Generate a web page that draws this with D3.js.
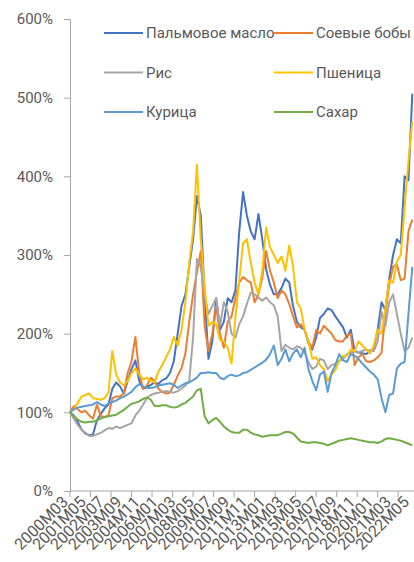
<!DOCTYPE html>
<html>
<head>
<meta charset="utf-8">
<script src="https://cdn.jsdelivr.net/npm/d3@7"></script>
<style>
  body { margin: 0; background: #fff; }
  svg text { font-family: Roboto, "Open Sans", sans-serif; fill: #595959; }
</style>
</head>
<body>
<svg id="chart"></svg>
<script>
// commodity price indices, 2000M03 = 100%, one point every 3 months

const seriesNames = ["Пальмовое масло", "Соевые бобы", "Рис", "Пшеница", "Курица", "Сахар"];
const seriesColors = ["#4472C4", "#ED7D31", "#A5A5A5", "#FFC000", "#5B9BD5", "#70AD47"];

const palmOil = [100,96,88,78,73,71,72,90,98,105, 110,130,138,133,124,140,155,166,140,130,
  132,135,138,136,141,143,150,165,200,235, 250,285,320,375,350,250,168,190,245,205,
  215,245,240,255,330,380,350,330,320,352, 320,282,262,250,250,258,270,265,235,215,
  208,205,188,180,195,220,225,232,230,222, 215,208,195,205,178,176,175,174,178,182,
  205,240,230,270,300,320,315,400,395,505];
const soybeans = [100,108,104,100,102,96,92,110,95,94, 96,118,120,120,124,150,165,196,150,130,
  134,144,140,130,126,124,125,135,147,156, 175,215,250,278,305,210,178,200,235,200,
  182,215,222,245,265,272,268,265,240,250, 272,305,280,265,245,255,250,238,222,208,
  212,205,190,182,205,200,210,205,200,192, 190,190,198,200,160,170,174,165,164,166,
  170,176,225,262,285,288,268,270,330,345];
const rice = [100,92,84,78,74,70,70,72,74,77, 80,79,82,80,82,84,86,96,102,110,
  118,122,124,125,126,127,126,125,127,130, 134,140,195,295,285,248,225,235,245,210,
  240,228,200,195,212,222,238,252,250,246, 242,246,240,236,222,178,186,182,180,184,
  182,176,164,155,158,168,166,155,160,162, 165,168,174,176,178,176,178,180,178,178,
  190,228,210,240,250,225,200,178,182,195];
const wheat = [100,104,112,120,122,124,118,117,116,118, 125,178,148,138,134,140,150,156,148,142,
  144,140,138,152,160,170,180,196,185,205, 240,290,330,415,320,260,210,215,212,192,
  190,182,162,220,268,315,320,290,265,250, 280,335,310,300,290,298,280,312,285,240,
  232,205,190,168,170,160,155,140,148,154, 165,172,172,180,178,190,185,180,175,185,
  205,200,232,268,265,292,300,360,420,470];
const chicken = [100,104,106,107,108,109,110,113,110,108, 111,113,115,118,120,123,126,132,136,133,
  131,131,132,134,135,136,137,135,131,134, 137,138,141,144,150,150,151,150,150,144,
  142,146,148,146,147,150,151,154,157,160, 163,167,174,185,160,168,180,165,175,180,
  170,182,155,140,128,148,152,126,150,160, 174,166,164,174,172,168,162,157,152,148,
  142,118,100,122,124,156,162,164,225,285];
const sugar = [100,95,91,88,87,88,88,90,92,94, 95,96,97,100,103,107,111,112,114,117,
  119,116,108,108,109,109,107,106,107,110, 112,116,120,128,130,95,86,90,93,88,
  82,78,75,74,74,78,78,74,72,71, 69,70,71,71,71,73,75,75,73,68,
  63,62,61,62,62,61,60,58,60,62, 64,65,66,67,66,65,64,63,62,62,
  61,63,66,67,66,65,64,62,60,58];

const xLabels = ["2000M03","2001M05","2002M07","2003M09","2004M11","2006M01","2007M03",
  "2008M05","2009M07","2010M09","2011M11","2013M01","2014M03","2015M05","2016M07",
  "2017M09","2018M11","2020M01","2021M03","2022M05"];
const yTicks = [0, 100, 200, 300, 400, 500, 600];

const allSeries = [palmOil, soybeans, rice, wheat, chicken, sugar];

const width = 414;
const height = 562;
const stepMonths = 3;       // spacing of data points
const labelEvery = 14;      // months between axis labels
const tickEvery = 16;       // months between tick marks

const svg = d3.select("#chart")
  .attr("width", width)
  .attr("height", height);

// month index -> screen x
const x = d3.scaleLinear()
  .domain([0, (palmOil.length - 1) * stepMonths])
  .range([70, 412.3]);

const y = d3.scaleLinear()
  .domain([0, 600])
  .range([491, 19]);

// Y axis
const yAxis = svg.append("g")
  .attr("transform", "translate(70,0)")
  .call(d3.axisLeft(y).tickValues(yTicks).tickFormat(d => d + "%").tickSizeOuter(0).tickSize(6).tickPadding(11));
yAxis.select(".domain").attr("stroke", "#a6a6a6");
yAxis.selectAll(".tick line").attr("stroke", "#a6a6a6");
yAxis.selectAll("text").style("font-size", "15px").attr("fill", "#595959");

// X axis: baseline + tick marks
const xg = svg.append("g");
xg.append("line")
  .attr("x1", x(0)).attr("x2", 414)
  .attr("y1", y(0)).attr("y2", y(0))
  .attr("stroke", "#a6a6a6");
xg.selectAll(".xtick")
  .data(d3.range(0, (palmOil.length - 1) * stepMonths, tickEvery))
  .join("line")
  .attr("class", "xtick")
  .attr("x1", d => x(d)).attr("x2", d => x(d))
  .attr("y1", y(0)).attr("y2", y(0) + 6)
  .attr("stroke", "#a6a6a6");
xg.selectAll(".xlab")
  .data(xLabels)
  .join("text")
  .attr("class", "xlab")
  .attr("text-anchor", "end")
  .attr("transform", (d, i) => `translate(${x(i * labelEvery) - 1},${y(0) + 12}) rotate(-45)`)
  .style("font-size", "16px")
  .text(d => d);

// lines
const lineGen = d3.line()
  .x((d, i) => x(i * stepMonths))
  .y(d => y(d));

svg.append("g")
  .selectAll("path")
  .data(allSeries)
  .join("path")
  .attr("d", lineGen)
  .attr("fill", "none")
  .attr("stroke", (d, i) => seriesColors[i])
  .attr("stroke-width", 2)
  .attr("stroke-linejoin", "round");

// legend, two columns
const legend = svg.append("g")
  .selectAll("g")
  .data(seriesNames)
  .join("g")
  .attr("transform", (d, i) => `translate(${i % 2 === 0 ? 104 : 274},${33 + Math.floor(i / 2) * 39.5})`);
legend.append("line")
  .attr("x1", 0).attr("x2", 39)
  .attr("stroke", (d, i) => seriesColors[i])
  .attr("stroke-width", 2);
legend.append("text")
  .attr("x", 42)
  .attr("dy", "0.35em")
  .style("font-size", "15px")
  .text(d => d);
</script>
</body>
</html>
